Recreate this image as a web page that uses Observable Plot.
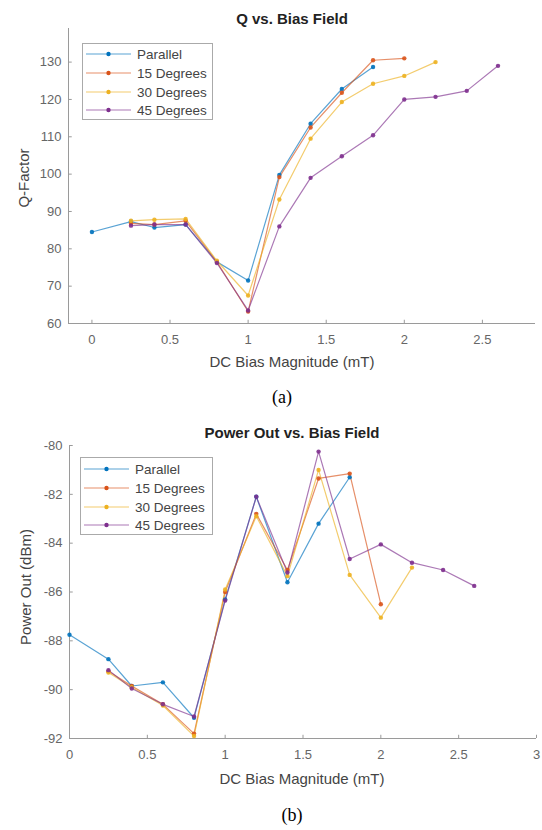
<!DOCTYPE html>
<html>
<head>
<meta charset="utf-8">
<script src="https://cdn.jsdelivr.net/npm/d3@7"></script>
<script src="https://cdn.jsdelivr.net/npm/@observablehq/plot@0.6"></script>
<style>
  html, body { margin: 0; padding: 0; background: #fff; }
  #wrap { position: relative; width: 542px; height: 830px; overflow: hidden; font-family: "Liberation Sans", Arial, sans-serif; }
  #wrap > svg { position: absolute; left: 0; }
  .t { position: absolute; white-space: nowrap; color: #333; }
  .title { font-weight: bold; font-size: 15px; color: #222; transform: translate(-50%, -50%); }
  .xl { font-size: 15px; color: #444; transform: translate(-50%, -50%); }
  .yl { font-size: 15px; color: #444; transform: translate(-50%, -50%) rotate(-90deg); }
  .cap { font-family: "Liberation Serif", "Times New Roman", serif; font-size: 18px; color: #000; transform: translate(-50%, -50%); }
  .legend { position: absolute; border: 1px solid #aaa; background: #fff; box-sizing: border-box; }
  .legend .row { position: absolute; left: 0; height: 18px; display: flex; align-items: center; font-size: 13.5px; color: #444; }
  #wrap .legend svg { position: static; display: block; margin-right: 2px; }
</style>
</head>
<body>
<div id="wrap"></div>
<script>
// ---- data ----
const seriesNames = ["Parallel", "15 Degrees", "30 Degrees", "45 Degrees"];
const seriesColors = ["#0072BD", "#D95319", "#EDB120", "#7E2F8E"];

const xParallel = [0, 0.25, 0.4, 0.6, 0.8, 1.0, 1.2, 1.4, 1.6, 1.8];
const x15 = [0.25, 0.4, 0.6, 0.8, 1.0, 1.2, 1.4, 1.6, 1.8, 2.0];
const x30 = [0.25, 0.4, 0.6, 0.8, 1.0, 1.2, 1.4, 1.6, 1.8, 2.0, 2.2];
const x45 = [0.25, 0.4, 0.6, 0.8, 1.0, 1.2, 1.4, 1.6, 1.8, 2.0, 2.2, 2.4, 2.6];

// Q-factor
const qParallel = [84.5, 87.3, 85.7, 86.5, 76.5, 71.5, 99.8, 113.5, 122.8, 128.7];
const q15 = [86.8, 86.5, 87.5, 76.5, 63.2, 99.2, 112.5, 121.8, 130.5, 131.0];
const q30 = [87.5, 87.8, 88.0, 76.8, 67.5, 93.2, 109.5, 119.3, 124.2, 126.3, 130.0];
const q45 = [86.2, 86.5, 86.5, 76.2, 63.5, 86.0, 99.0, 104.8, 110.4, 120.0, 120.7, 122.3, 129.0];

// Power out (dBm)
const pParallel = [-87.75, -88.75, -89.85, -89.7, -91.15, -86.3, -82.1, -85.6, -83.2, -81.3];
const p15 = [-89.25, -89.85, -90.6, -91.8, -86.0, -82.8, -85.1, -81.35, -81.15, -86.5];
const p30 = [-89.3, -89.9, -90.65, -91.9, -85.9, -82.9, -85.35, -81.0, -85.3, -87.05, -85.0];
const p45 = [-89.2, -89.95, -90.6, -91.1, -86.35, -82.1, -85.2, -80.25, -84.65, -84.05, -84.8, -85.1, -85.75];

const xTicksA = [0, 0.5, 1, 1.5, 2, 2.5];
const yTicksA = [60, 70, 80, 90, 100, 110, 120, 130];
const xTicksB = [0, 0.5, 1, 1.5, 2, 2.5, 3];
const yTicksB = [-92, -90, -88, -86, -84, -82, -80];

// ---- build tables ----
const xs = [xParallel, x15, x30, x45];
function rows(vals) {
  const out = [];
  vals.forEach((v, i) => v.forEach((y, j) => out.push({s: seriesNames[i], x: xs[i][j], y})));
  return out;
}
const qRows = rows([qParallel, q15, q30, q45]);
const pRows = rows([pParallel, p15, p30, p45]);

const wrap = document.getElementById("wrap");
const axisColor = "#9a9a9a";

function makePlot(data, opt) {
  const [x0, x1] = opt.xDomain, [y0, y1] = opt.yDomain;
  const tx = (x1 - x0) * 0.008, ty = (y1 - y0) * 0.011;
  return Plot.plot({
    width: 542, height: opt.height,
    marginLeft: opt.ml, marginRight: opt.mr, marginTop: opt.mt, marginBottom: opt.mb,
    style: {fontFamily: "'Liberation Sans', Arial, sans-serif", fontSize: "13px", color: "#666", background: "transparent", overflow: "visible"},
    x: {domain: opt.xDomain, ticks: opt.xTicks, tickSize: 0, tickPadding: 11, label: null, tickFormat: d => String(d)},
    y: {domain: opt.yDomain, ticks: opt.yTicks, tickSize: 0, tickPadding: 7, label: null, tickFormat: d => String(d)},
    color: {domain: seriesNames, range: seriesColors},
    marks: [
      Plot.ruleY([y0], {stroke: axisColor, strokeWidth: 1}),
      Plot.ruleX([x0], {stroke: axisColor, strokeWidth: 1}),
      Plot.ruleX(opt.xTicks, {x: d => d, y1: y0, y2: y0 + ty, stroke: axisColor}),
      Plot.ruleY(opt.yTicks, {y: d => d, x1: x0, x2: x0 + tx, stroke: axisColor}),
      Plot.line(data, {x: "x", y: "y", z: "s", stroke: "s", strokeWidth: 1.2, strokeOpacity: 0.65}),
      Plot.dot(data, {x: "x", y: "y", fill: "s", r: 2.2, fillOpacity: 0.9})
    ]
  });
}

const plotA = makePlot(qRows, {height: 360, ml: 68, mr: 7, mt: 28, mb: 37,
  xDomain: [-0.15, 2.84], yDomain: [60, 139], xTicks: xTicksA, yTicks: yTicksA});
plotA.style.top = "0px";
wrap.appendChild(plotA);

const plotB = makePlot(pRows, {height: 385, ml: 69, mr: 6, mt: 45, mb: 47,
  xDomain: [0, 3], yDomain: [-92, -80], xTicks: xTicksB, yTicks: yTicksB});
plotB.style.top = "400px";
wrap.appendChild(plotB);

function addText(cls, text, x, y) {
  const d = document.createElement("div");
  d.className = "t " + cls;
  d.textContent = text;
  d.style.left = x + "px";
  d.style.top = y + "px";
  wrap.appendChild(d);
}
addText("title", "Q vs. Bias Field", 292, 18);
addText("xl", "DC Bias Magnitude (mT)", 292, 361);
addText("yl", "Q-Factor", 23, 178);
addText("cap", "(a)", 282, 397);
addText("title", "Power Out vs. Bias Field", 292, 432);
addText("xl", "DC Bias Magnitude (mT)", 302, 778);
addText("yl", "Power Out (dBm)", 25, 587);
addText("cap", "(b)", 292, 815);

function addLegend(left, top, width, height, rowTops) {
  const box = document.createElement("div");
  box.className = "legend";
  Object.assign(box.style, {left: left + "px", top: top + "px", width: width + "px", height: height + "px"});
  seriesNames.forEach((name, i) => {
    const r = document.createElement("div");
    r.className = "row";
    r.style.top = rowTops[i] + "px";
    const c = seriesColors[i];
    r.innerHTML = `<svg width="52" height="18"><line x1="3" x2="48" y1="9" y2="9" stroke="${c}" stroke-opacity="0.65" stroke-width="1.2"/><circle cx="25.5" cy="9" r="2.2" fill="${c}"/></svg><span>${name}</span>`;
    box.appendChild(r);
  });
  wrap.appendChild(box);
}
addLegend(82, 43, 131, 77, [1, 20, 39, 57]);
addLegend(80, 457, 133, 78, [2, 21, 40, 58]);
</script>
</body>
</html>
